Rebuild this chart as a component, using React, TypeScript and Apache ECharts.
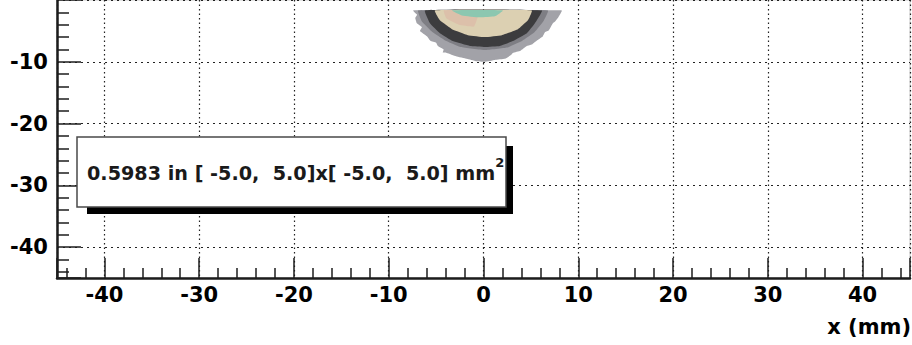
import React, { useEffect, useRef } from "react";
import * as echarts from "echarts";

// Axis ranges (mm)
const xRange = [-45, 45];
const yRange = [-45, 0];

// Beam-spot contours, [x (mm), y (mm)]
const greyHalo: number[][] = [
  [-7.44, -1.69], [-7.0, -2.4], [-7.2, -2.9], [-7.03, -3.77], [-6.5, -4.4], [-6.7, -5.0], [-5.97, -5.85],
  [-5.6, -6.6], [-5.0, -6.9], [-4.81, -7.44], [-4.2, -8.0], [-4.3, -8.5], [-3.86, -8.56], [-2.9, -9.1],
  [-1.75, -9.52], [-0.8, -9.9], [0.15, -10.0], [1.2, -9.7], [2.26, -9.52], [2.9, -8.9], [3.1, -8.56],
  [3.9, -8.2], [4.58, -7.44], [5.1, -7.2], [5.5, -6.7], [6.27, -5.85], [6.5, -5.2], [6.9, -4.9],
  [7.32, -3.77], [7.6, -3.4], [7.9, -2.8], [8.27, -1.69],
];
const darkGrey: number[][] = [
  [-6.9, -1.69], [-6.5, -3.5], [-5.4, -5.2], [-4.1, -6.5], [-2.4, -7.6], [0.15, -8.1],
  [2.5, -7.7], [4.1, -6.6], [5.4, -5.2], [6.3, -3.5], [6.8, -1.69],
];
const darkRing: number[][] = [
  [-6.18, -1.69], [-5.65, -3.77], [-4.6, -5.37], [-3.23, -6.65], [-1.43, -7.44], [0.15, -7.6],
  [1.73, -7.44], [3.1, -6.65], [4.58, -5.37], [5.42, -3.77], [6.16, -1.69],
];
const tanCore: number[][] = [
  [-5.13, -1.69], [-4.6, -3.29], [-3.33, -4.73], [-1.65, -5.69], [0.15, -6.0], [1.94, -5.69],
  [3.63, -4.73], [4.68, -3.29], [5.1, -1.69],
];
const pinkPatch: number[][] = [
  [-4.2, -1.69], [-3.9, -3.0], [-2.6, -4.0], [-1.0, -4.3], [-0.6, -2.6], [-1.5, -1.69],
];
const tealCore: number[][] = [
  [-3.33, -1.69], [-2.28, -2.49], [-0.38, -2.81], [1.2, -2.65], [2.05, -1.69],
];

const contours = [
  { pts: greyHalo, color: "#a2a2a8" },
  { pts: darkGrey, color: "#7e7e84" },
  { pts: darkRing, color: "#3c3c3e" },
  { pts: tanCore, color: "#dcd0b2" },
  { pts: pinkPatch, color: "#dcc0aa" },
  { pts: tealCore, color: "#8cc7b0" },
];

const boxLabel = "0.5983 in [ -5.0,  5.0]x[ -5.0,  5.0] mm";
const boxSup = "2";
const xTitle = "x (mm)";

const FONT = "DejaVu Sans";

export default function App() {
  const ref = useRef<HTMLDivElement>(null);
  useEffect(() => {
    const chart = echarts.init(ref.current!, null, { renderer: "svg" });
    const axisCommon = {
      type: "value" as const,
      axisLine: { show: true, onZero: false, lineStyle: { color: "#1c1c1c", width: 2.5 } },
      axisLabel: {
        color: "#000",
        fontFamily: FONT,
        fontWeight: "bold" as const,
        fontSize: 21,
        showMinLabel: false,
        showMaxLabel: false,
      },
    };
    chart.setOption({
      animation: false,
      backgroundColor: "#fff",
      grid: {
        left: 57,
        right: 2,
        top: -4,
        bottom: 67,
        show: true,
        borderColor: "#c8c8c8",
        borderWidth: 1,
      },
      xAxis: {
        ...axisCommon,
        min: xRange[0],
        max: xRange[1],
        splitNumber: 9,
        axisLabel: { ...axisCommon.axisLabel, margin: 6 },
        axisTick: { show: true, inside: true, length: 20, lineStyle: { color: "#1c1c1c", width: 1.5 } },
        minorTick: { show: true, splitNumber: 5, length: 10, lineStyle: { color: "#1c1c1c", width: 1.5 } },
        splitLine: { show: true, lineStyle: { color: "#222", width: 1.2, type: [1.5, 3] } },
      },
      yAxis: {
        ...axisCommon,
        min: yRange[0],
        max: yRange[1],
        splitNumber: 5,
        axisLabel: { ...axisCommon.axisLabel, margin: 9 },
        axisTick: { show: true, inside: true, length: 24, lineStyle: { color: "#1c1c1c", width: 1.5 } },
        minorTick: { show: true, splitNumber: 5, length: 12, lineStyle: { color: "#1c1c1c", width: 1.5 } },
        splitLine: { show: true, lineStyle: { color: "#222", width: 1.2, type: [2, 4] } },
      },
      series: [
        {
          type: "custom",
          coordinateSystem: "cartesian2d",
          clip: true,
          silent: true,
          z: 1,
          data: contours.map((c) => c.pts[0]),
          renderItem: (params: any, api: any) => {
            const c = contours[params.dataIndex];
            return {
              type: "polygon",
              shape: { points: c.pts.map((p) => api.coord(p)), smooth: 0.1 },
              style: { fill: c.color, stroke: null },
            };
          },
        },
      ],
      graphic: [
        {
          type: "rect",
          z: 100,
          shape: { x: 87, y: 146, width: 426, height: 68 },
          style: { fill: "#000" },
        },
        {
          type: "rect",
          z: 101,
          shape: { x: 77, y: 137, width: 429, height: 70 },
          style: { fill: "#fff", stroke: "#4a4a4a", lineWidth: 1.5 },
        },
        {
          type: "text",
          z: 102,
          x: 87,
          y: 173,
          style: {
            text: `{a|${boxLabel}}{s|${boxSup}}`,
            verticalAlign: "middle",
            align: "left",
            rich: {
              a: { fontSize: 19.2, fontWeight: "bold", fontFamily: FONT, fill: "#1a1a1a", lineHeight: 34 },
              s: { fontSize: 13, fontWeight: "bold", fontFamily: FONT, fill: "#1a1a1a", verticalAlign: "top", lineHeight: 14 },
            },
          },
        },
        {
          type: "text",
          z: 102,
          x: 911,
          y: 327,
          style: {
            text: xTitle,
            align: "right",
            verticalAlign: "middle",
            fontSize: 21,
            fontWeight: "bold",
            fontFamily: FONT,
            fill: "#000",
          },
        },
      ],
    });
    return () => chart.dispose();
  }, []);
  return (
    <div
      ref={ref}
      style={{ position: "fixed", left: 0, top: 0, width: 912, height: 345, background: "#fff" }}
    />
  );
}
